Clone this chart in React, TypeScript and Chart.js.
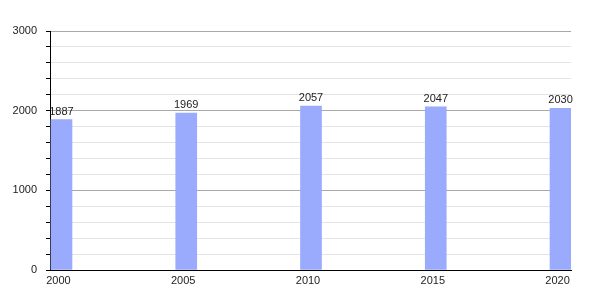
import React, { useEffect, useRef } from "react";
import { Chart, registerables } from "chart.js";

Chart.register(...registerables);

const years = [2000, 2005, 2010, 2015, 2020];
const population = [1887, 1969, 2057, 2047, 2030];
const yMin = 0;
const yMax = 3000;
const yMinorStep = 200;
const yLabelStep = 1000;
const xMin = 1999.54;
const xMax = 2020.42;

const FONT = "'Liberation Sans', Arial, Helvetica, sans-serif";
const TEXT = "#222";

const valueLabels = {
  id: "valueLabels",
  afterDatasetsDraw(chart: any) {
    const ctx = chart.ctx;
    const meta = chart.getDatasetMeta(0);
    ctx.save();
    ctx.font = `11px ${FONT}`;
    ctx.fillStyle = TEXT;
    ctx.textAlign = "center";
    ctx.textBaseline = "alphabetic";
    meta.data.forEach((el: any, i: number) => {
      ctx.fillText(String(population[i]), el.x, el.y - 5);
    });
    ctx.restore();
  },
};

export default function App() {
  const ref = useRef<HTMLCanvasElement | null>(null);

  useEffect(() => {
    document.body.style.margin = "0";
    if (!ref.current) return;
    const chart = new Chart(ref.current, {
      type: "bar",
      data: {
        datasets: [
          {
            data: years.map((y, i) => ({ x: y, y: population[i] })),
            backgroundColor: "#9aaafd",
            borderWidth: 0,
            barThickness: 21,
          },
        ],
      },
      options: {
        responsive: false,
        animation: false,
        events: [],
        layout: { padding: { left: 0, right: 29, top: 31, bottom: 0 } },
        plugins: {
          legend: { display: false },
          tooltip: { enabled: false },
          title: { display: false },
        },
        scales: {
          x: {
            type: "linear",
            min: xMin,
            max: xMax,
            offset: false,
            afterBuildTicks: (axis: any) => {
              axis.ticks = years.map((v) => ({ value: v }));
            },
            afterFit: (axis: any) => {
              axis.height = 30;
            },
            grid: { display: false, drawTicks: false },
            border: { display: true, color: "#000", width: 1 },
            ticks: {
              autoSkip: false,
              maxRotation: 0,
              padding: 4,
              labelOffset: -3,
              color: TEXT,
              font: { family: FONT, size: 11 },
              callback: (v: any) => String(v),
            },
          },
          y: {
            min: yMin,
            max: yMax,
            afterFit: (axis: any) => {
              axis.width = 50;
            },
            grid: {
              color: (c: any) =>
                c.tick && c.tick.value === 0
                  ? "#000"
                  : c.tick && c.tick.value % yLabelStep === 0
                  ? "#a8a8a8"
                  : "#e4e4e4",
              drawTicks: true,
              tickLength: 4,
              tickColor: "#000",
            },
            border: { display: true, color: "#000", width: 1 },
            ticks: {
              stepSize: yMinorStep,
              autoSkip: false,
              padding: 9,
              color: TEXT,
              font: { family: FONT, size: 11 },
              callback: (v: any) => (Number(v) % yLabelStep === 0 ? String(v) : ""),
            },
          },
        },
      },
      plugins: [valueLabels],
    });
    return () => chart.destroy();
  }, []);

  return (
    <div style={{ width: 600, height: 300, background: "#fff" }}>
      <canvas ref={ref} width={600} height={300} style={{ display: "block" }} />
    </div>
  );
}
